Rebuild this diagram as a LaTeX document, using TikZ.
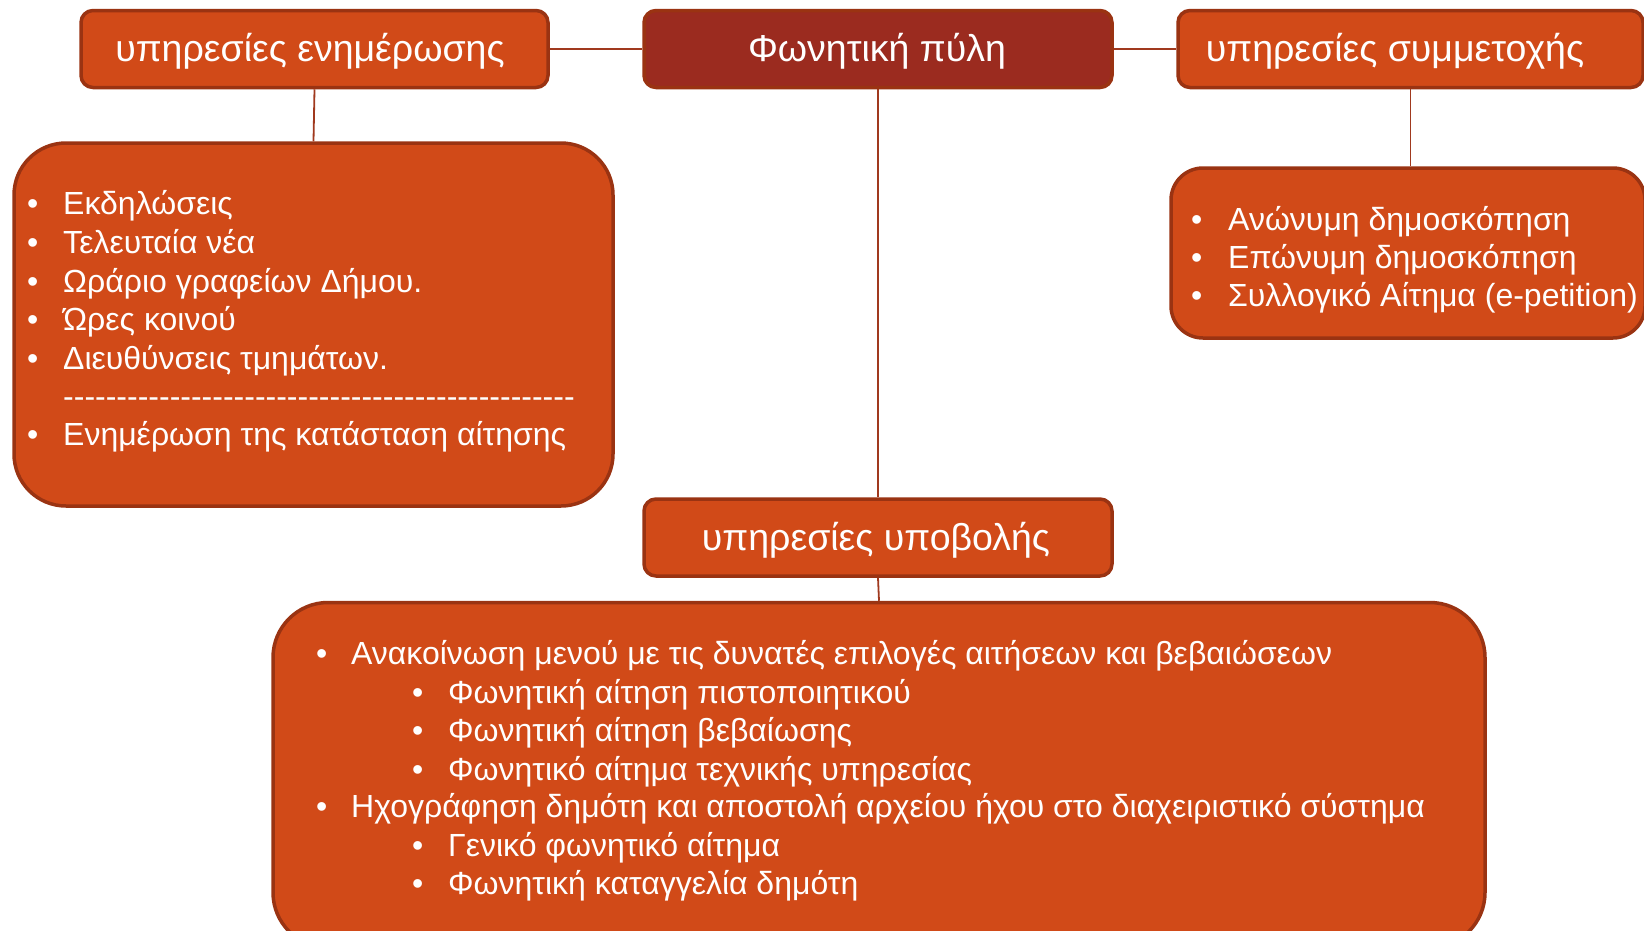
\documentclass[tikz,border=0pt]{standalone}
\usepackage{fontspec}
\setmainfont{Liberation Sans}
\definecolor{ora}{HTML}{D14A18}
\definecolor{bord}{HTML}{9A3312}
\definecolor{dark}{HTML}{9B2B1F}
\definecolor{conncol}{HTML}{A0391E}
\ExplSyntaxOn
\newcommand\hyphenrow[1]{\prg_replicate:nn{#1}{-{}}}
\ExplSyntaxOff
\newcommand\bul[2]{\makebox[#1][l]{•}#2}
\tikzset{
  box/.style={draw=bord, line width=3.5pt, fill=ora, rounded corners=12pt, inner sep=0pt},
  bigbox/.style={box, rounded corners=52pt},
  hdr/.style={text=white, font=\fontsize{37.5}{44}\selectfont, inner sep=0pt},
  item/.style={text=white, font=\fontsize{32}{38}\selectfont, inner sep=0pt, anchor=west, text height=23pt, text depth=0pt},
  conn/.style={draw=conncol, line width=1.8pt}
}
\begin{document}
\begin{tikzpicture}[x=1pt,y=-1pt]
\useasboundingbox (0,0) rectangle (1644,930);
% boxes
\node[box, minimum width=467pt, minimum height=77pt] (A) at (314.5,49) {};
\node[box, fill=dark, minimum width=468pt, minimum height=77pt] (P) at (878,49) {};
\node[box, minimum width=465pt, minimum height=77pt] (C) at (1410.5,49) {};
\node[bigbox, minimum width=599pt, minimum height=363pt] (LA) at (313.5,324.5) {};
\node[box, rounded corners=32pt, minimum width=474pt, minimum height=170pt] (RC) at (1408,253) {};
\node[box, minimum width=468pt, minimum height=77pt] (S) at (878,537.5) {};
\node[bigbox, rounded corners=55pt, minimum width=1212pt, minimum height=345pt] (LS) at (879,775) {};
% connectors
\draw[conn] (A.east) -- (P.west);
\draw[conn] (P.east) -- (C.west);
\draw[conn] (A.south) -- (LA.north);
\draw[conn] (C.south) -- (C.south |- RC.north);
\draw[conn] (P.south) -- (S.north);
\draw[conn] (S.south) -- (LS.north);
% header texts
\node[hdr] (At) at (310,51) {υπηρεσίες ενημέρωσης};
\node[hdr] (Pt) at (877,51) {Φωνητική πύλη};
\node[hdr] (Ct) at (1395,51) {υπηρεσίες συμμετοχής};
\node[hdr] (St) at (876,540) {υπηρεσίες υποβολής};
% left list
\node[item] (la1) at (27,203) {\bul{36pt}{Εκδηλώσεις}};
\node[item] (la2) at (27,242) {\bul{36pt}{Τελευταία νέα}};
\node[item] (la3) at (27,281) {\bul{36pt}{Ωράριο γραφείων Δήμου.}};
\node[item] (la4) at (27,319) {\bul{36pt}{Ώρες κοινού}};
\node[item] (la5) at (27,357.5) {\bul{36pt}{Διευθύνσεις τμημάτων.}};
\node[item] (la6) at (63,396) {\hyphenrow{48}};
\node[item] (la7) at (27,434) {\bul{36pt}{Ενημέρωση της κατάσταση αίτησης}};
% right list
\node[item] (rc1) at (1191,219) {\bul{37pt}{Ανώνυμη δημοσκόπηση}};
\node[item] (rc2) at (1191,257) {\bul{37pt}{Επώνυμη δημοσκόπηση}};
\node[item] (rc3) at (1191,295) {\bul{37pt}{Συλλογικό Αίτημα (e-petition)}};
% bottom list
\node[item] (ls1) at (316,653) {\bul{35pt}{Ανακοίνωση μενού με τις δυνατές επιλογές αιτήσεων και βεβαιώσεων}};
\node[item] (ls2) at (412,692) {\bul{36pt}{Φωνητική αίτηση πιστοποιητικού}};
\node[item] (ls3) at (412,730) {\bul{36pt}{Φωνητική αίτηση βεβαίωσης}};
\node[item] (ls4) at (412,768.5) {\bul{36pt}{Φωνητικό αίτημα τεχνικής υπηρεσίας}};
\node[item] (ls5) at (316,806) {\bul{35pt}{Ηχογράφηση δημότη και αποστολή αρχείου ήχου στο διαχειριστικό σύστημα}};
\node[item] (ls6) at (412,845) {\bul{36pt}{Γενικό φωνητικό αίτημα}};
\node[item] (ls7) at (412,883) {\bul{36pt}{Φωνητική καταγγελία δημότη}};
\end{tikzpicture}
\end{document}
